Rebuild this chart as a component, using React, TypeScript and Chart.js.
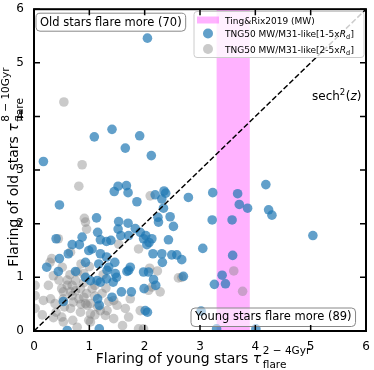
import React, { useEffect, useRef } from "react";
import { Chart, registerables } from "chart.js";

Chart.register(...registerables);

// ---- data ----
const blueX = [
  2.05, 0.17, 1.09, 1.41, 1.65, 1.91, 2.12,
  0.46, 1.52, 1.67, 1.45, 1.70, 1.86, 1.13, 1.53,
  2.19, 2.35, 2.38, 2.31, 2.34, 2.24, 2.46, 2.79,
  3.23, 3.68, 3.71, 3.86, 3.22, 3.58, 4.19, 4.24, 4.30,
  5.04, 3.05, 3.59, 3.40, 3.46, 3.26, 3.02, 3.30, 4.01,
  2.25, 2.52, 1.92, 2.02, 2.08, 2.43, 2.15, 2.31, 2.49, 2.58, 2.67, 2.32,
  1.98, 2.07, 2.16, 2.20, 2.70, 1.99, 2.01, 2.05,
  1.70, 1.52, 1.83, 1.98, 2.13, 0.40, 0.87, 1.15, 1.20, 1.31, 1.39, 1.57, 1.71,
  0.69, 0.82, 2.04, 0.99, 1.05, 1.20, 0.62, 0.46, 0.23, 0.44, 0.75, 0.93,
  1.31, 1.46, 1.35, 1.47, 1.74, 1.68, 0.93, 1.02, 1.14, 1.20, 1.31, 1.43, 1.49,
  1.58, 1.76, 1.41, 1.15, 1.18, 0.53, 0.60, 1.18, 1.17, 1.32, 1.71,
];
const blueY = [
  5.46, 3.16, 3.62, 3.76, 3.41, 3.64, 3.27,
  2.35, 2.70, 2.71, 2.60, 2.58, 2.41, 2.11, 2.04,
  2.54, 2.61, 2.57, 2.46, 2.29, 2.12, 2.13, 2.49,
  2.58, 2.56, 2.36, 2.29, 2.07, 2.07, 2.73, 2.26, 2.16,
  1.78, 1.54, 1.41, 1.04, 0.88, 0.87, 0.37, 0.04, 0.04,
  2.03, 1.95, 1.84, 1.78, 1.65, 1.70, 1.44, 1.44, 1.42, 1.42, 1.33, 1.28,
  1.10, 1.10, 0.96, 0.85, 1.02, 0.79, 0.38, 0.35,
  2.01, 1.90, 1.91, 1.72, 1.72, 1.72, 1.75, 1.84, 1.70, 1.67, 1.69, 1.78, 1.78,
  1.61, 1.61, 1.61, 1.50, 1.53, 1.44, 1.44, 1.35, 1.19, 1.11, 1.11, 1.28,
  1.38, 1.28, 1.19, 1.07, 1.19, 1.11, 1.00, 0.94, 0.94, 0.91, 0.97, 0.91, 1.00,
  0.73, 0.73, 0.63, 0.60, 0.48, 0.55, 0.01, 0.04, 1.25, 1.13, 1.13,
];
const greyX = [
  0.54, 0.87, 0.81, 0.91, 2.10, 3.61, 3.77, 2.09, 2.61, 2.07, 1.92, 1.98,
  0.93, 0.44, 0.32, 0.51, 0.35, 0.26, 0.02, 0.17, 0.02, 0.38, 0.53, 0.69,
  0.84, 0.69, 0.81, 0.93, 0.66, 0.84, 1.02, 1.02, 0.53, 0.78, 1.29, 1.44,
  1.65, 1.89, 1.20, 0.78, 0.90, 0.75, 1.05, 1.23, 1.50, 1.71, 0.66, 2.23,
  2.67, 2.28, 2.13, 1.53, 1.89, 0.29, 0.02, 0.50, 0.66, 0.53, 0.71, 0.90,
  0.96, 1.02, 0.50, 0.99, 1.32, 1.44, 1.74, 0.60, 0.85, 1.00, 1.25, 1.10,
  0.35, 0.15, 1.60, 1.35, 0.95,
  0.60, 0.75, 0.90, 1.10, 0.55, 0.70, 0.85, 1.15, 0.45, 0.95, 1.30, 0.30,
  0.65, 1.10, 0.40,
];
const greyY = [
  4.27, 3.10, 2.70, 2.10, 2.52, 1.12, 0.74, 1.17, 0.99, 0.76, 0.38, 0.04,
  2.03, 1.72, 1.35, 1.19, 1.03, 0.85, 0.85, 0.57, 0.66, 0.51, 0.73, 0.85,
  0.79, 0.66, 0.60, 0.51, 0.42, 0.35, 0.51, 0.17, 0.17, 0.07, 0.29, 0.23,
  0.42, 0.04, 0.38, 1.10, 1.07, 0.94, 0.79, 0.70, 0.48, 0.26, 1.47, 1.12,
  1.00, 0.73, 0.82, 1.62, 1.53, 1.28, 0.42, 0.79, 0.73, 0.60, 0.54, 0.63,
  0.48, 0.32, 0.26, 0.20, 0.38, 0.57, 0.60, 0.95, 1.25, 1.20, 1.05, 0.65,
  0.25, 0.30, 0.10, 0.55, 1.90,
  0.85, 0.75, 0.90, 0.85, 0.45, 0.20, 0.50, 0.45, 0.95, 0.70, 0.80, 0.60,
  1.05, 0.30, 0.35,
];
const diagX = [0, 6];
const diagY = [0, 6];
const bandRange = [3.3, 3.9];
const axisMin = 0;
const axisMax = 6;
const tickValues = [0, 1, 2, 3, 4, 5, 6];

const legendLabels = ["Ting&Rix2019 (MW)", "TNG50 MW/M31-like[1-5x", "TNG50 MW/M31-like[2-5x"];
const oldText = "Old stars flare more (70)";
const youngText = "Young stars flare more (89)";
const xTitleMain = "Flaring of young stars ";
const xTitleSup = "2 − 4Gyr";
const yTitleMain = "Flaring of old stars ";
const yTitleSup = "8 − 10Gyr";
const titleSub = "flare";

// ---- styles ----
const BLUE = "rgba(31,119,180,0.7)";
const GREY = "rgba(128,128,128,0.42)";
const PINK = "rgba(255,0,255,0.3)";
const FONT = "'DejaVu Sans'";

function roundBox(ctx: CanvasRenderingContext2D, x: number, y: number, w: number, h: number, r: number, fill: string, stroke: string) {
  ctx.beginPath();
  ctx.moveTo(x + r, y);
  ctx.lineTo(x + w - r, y);
  ctx.arcTo(x + w, y, x + w, y + r, r);
  ctx.lineTo(x + w, y + h - r);
  ctx.arcTo(x + w, y + h, x + w - r, y + h, r);
  ctx.lineTo(x + r, y + h);
  ctx.arcTo(x, y + h, x, y + h - r, r);
  ctx.lineTo(x, y + r);
  ctx.arcTo(x, y, x + r, y, r);
  ctx.closePath();
  ctx.fillStyle = fill;
  ctx.fill();
  ctx.strokeStyle = stroke;
  ctx.lineWidth = 1;
  ctx.stroke();
}

function mathLabelWidth(ctx: CanvasRenderingContext2D, main: string, sup: string) {
  ctx.font = `14px ${FONT}`;
  const wm = ctx.measureText(main).width;
  ctx.font = `italic 14px ${FONT}`;
  const wt = ctx.measureText("τ").width;
  ctx.font = `10.5px ${FONT}`;
  const ws = ctx.measureText(sup).width;
  const wsub = ctx.measureText(titleSub).width;
  return { wm, wt, total: wm + wt + 1.5 + Math.max(ws, wsub) };
}

function drawMathLabel(ctx: CanvasRenderingContext2D, main: string, sup: string, x0: number, base: number) {
  const { wm, wt } = mathLabelWidth(ctx, main, sup);
  ctx.fillStyle = "#000";
  ctx.textBaseline = "alphabetic";
  ctx.textAlign = "left";
  ctx.font = `14px ${FONT}`;
  ctx.fillText(main, x0, base);
  ctx.font = `italic 14px ${FONT}`;
  ctx.fillText("τ", x0 + wm, base);
  const xs = x0 + wm + wt + 1.5;
  ctx.font = `10.5px ${FONT}`;
  ctx.fillText(sup, xs, base - 9.5);
  ctx.fillText(titleSub, xs, base + 5);
}

const decor = {
  id: "decor",
  beforeDatasetsDraw(chart: any) {
    const { ctx, chartArea: a, scales } = chart;
    const x0 = scales.x.getPixelForValue(bandRange[0]);
    const x1 = scales.x.getPixelForValue(bandRange[1]);
    ctx.save();
    ctx.fillStyle = PINK;
    ctx.fillRect(x0, a.top, x1 - x0, a.bottom - a.top);
    ctx.restore();
  },
  afterDatasetsDraw(chart: any) {
    const { ctx, chartArea: a } = chart;
    ctx.save();
    // annotation boxes
    ctx.font = `11.5px ${FONT}`;
    const wOld = ctx.measureText(oldText).width;
    roundBox(ctx, a.left + 2, a.top + 4, wOld + 8, 18, 4, "rgba(255,255,255,0.6)", "#888");
    ctx.fillStyle = "#000";
    ctx.textBaseline = "middle";
    ctx.textAlign = "left";
    ctx.fillText(oldText, a.left + 6, a.top + 13.5);

    const wYoung = ctx.measureText(youngText).width;
    roundBox(ctx, a.left + 157, a.bottom - 23, wYoung + 8, 18.5, 4, "rgba(255,255,255,0.5)", "#888");
    ctx.fillStyle = "#000";
    ctx.fillText(youngText, a.left + 161, a.bottom - 13.5);

    // legend
    roundBox(ctx, 194, 11.5, 170, 46, 3, "rgba(255,255,255,0.8)", "#ccc");
    ctx.fillStyle = PINK;
    ctx.fillRect(197, 16.5, 22, 7);
    ctx.beginPath();
    ctx.arc(208, 33.5, 5, 0, Math.PI * 2);
    ctx.fillStyle = BLUE;
    ctx.fill();
    ctx.beginPath();
    ctx.arc(208, 49, 5, 0, Math.PI * 2);
    ctx.fillStyle = GREY;
    ctx.fill();
    ctx.fillStyle = "#000";
    ctx.textBaseline = "alphabetic";
    ctx.font = `9px ${FONT}`;
    ctx.fillText(legendLabels[0], 225, 23.5);
    const rows = [37, 52.5];
    [1, 2].forEach((k, i) => {
      const by = rows[i];
      let x = 225;
      ctx.font = `9px ${FONT}`;
      ctx.fillText(legendLabels[k], x, by);
      x += ctx.measureText(legendLabels[k]).width;
      ctx.font = `italic 9px ${FONT}`;
      ctx.fillText("R", x, by);
      x += ctx.measureText("R").width;
      ctx.font = `6.5px ${FONT}`;
      ctx.fillText("d", x, by + 2);
      x += ctx.measureText("d").width + 0.5;
      ctx.font = `9px ${FONT}`;
      ctx.fillText("]", x, by);
    });

    // sech^2(z)
    let sx = 312;
    const sb = 100;
    ctx.font = `12px ${FONT}`;
    ctx.fillText("sech", sx, sb);
    sx += ctx.measureText("sech").width;
    ctx.font = `8.5px ${FONT}`;
    ctx.fillText("2", sx, sb - 5);
    sx += ctx.measureText("2").width + 0.5;
    ctx.font = `12px ${FONT}`;
    ctx.fillText("(", sx, sb);
    sx += ctx.measureText("(").width;
    ctx.font = `italic 12px ${FONT}`;
    ctx.fillText("z", sx, sb);
    sx += ctx.measureText("z").width;
    ctx.font = `12px ${FONT}`;
    ctx.fillText(")", sx, sb);
    ctx.restore();
  },
  afterDraw(chart: any) {
    const { ctx, chartArea: a, scales } = chart;
    ctx.save();
    // frame
    ctx.strokeStyle = "#000";
    ctx.lineWidth = 2;
    ctx.strokeRect(a.left, a.top, a.right - a.left, a.bottom - a.top);
    // inward ticks on all sides
    ctx.lineWidth = 1.5;
    ctx.beginPath();
    tickValues.forEach((v) => {
      const px = scales.x.getPixelForValue(v);
      ctx.moveTo(px, a.bottom);
      ctx.lineTo(px, a.bottom - 6);
      ctx.moveTo(px, a.top);
      ctx.lineTo(px, a.top + 6);
      const py = scales.y.getPixelForValue(v);
      ctx.moveTo(a.left, py);
      ctx.lineTo(a.left + 6, py);
      ctx.moveTo(a.right, py);
      ctx.lineTo(a.right - 6, py);
    });
    ctx.stroke();

    // axis titles
    const wx = mathLabelWidth(ctx, xTitleMain, xTitleSup).total;
    const cx = (a.left + a.right) / 2 + 3;
    drawMathLabel(ctx, xTitleMain, xTitleSup, cx - wx / 2, 363);

    const wy = mathLabelWidth(ctx, yTitleMain, yTitleSup).total;
    const cy = (a.top + a.bottom) / 2 - 3;
    ctx.translate(18, cy);
    ctx.rotate(-Math.PI / 2);
    drawMathLabel(ctx, yTitleMain, yTitleSup, -wy / 2, 0);
    ctx.restore();
  },
};

function pts(xs: number[], ys: number[]) {
  return xs.map((x, i) => ({ x, y: ys[i] }));
}

export default function App() {
  const ref = useRef<HTMLCanvasElement | null>(null);

  useEffect(() => {
    document.body.style.margin = "0";
    const canvas = ref.current;
    if (!canvas) return;
    const tickFont = { family: "DejaVu Sans", size: 12 };
    const chart = new Chart(canvas, {
      type: "scatter",
      data: {
        datasets: [
          {
            label: "y=x",
            data: pts(diagX, diagY),
            showLine: true,
            borderColor: "#000",
            borderWidth: 1.5,
            borderDash: [5.5, 2.4],
            pointRadius: 0,
            clip: 0,
          } as any,
          {
            label: "blue",
            data: pts(blueX, blueY),
            backgroundColor: BLUE,
            borderWidth: 0,
            pointRadius: 4.8,
            clip: 0,
          } as any,
          {
            label: "grey",
            data: pts(greyX, greyY),
            backgroundColor: GREY,
            borderWidth: 0,
            pointRadius: 4.8,
            clip: 0,
          } as any,
        ],
      },
      options: {
        animation: false,
        responsive: false,
        devicePixelRatio: 1,
        events: [],
        layout: { padding: { top: 8, right: 8, left: 0, bottom: 0 } },
        plugins: { legend: { display: false }, tooltip: { enabled: false } },
        scales: {
          x: {
            type: "linear",
            min: axisMin,
            max: axisMax,
            grid: { display: false },
            border: { display: false },
            ticks: { stepSize: 1, color: "#000", font: tickFont, padding: 1, maxRotation: 0 },
            afterFit: (s: any) => {
              s.height = 39;
            },
          },
          y: {
            type: "linear",
            min: axisMin,
            max: axisMax,
            grid: { display: false },
            border: { display: false },
            ticks: { stepSize: 1, color: "#000", font: tickFont, padding: 2 },
            afterFit: (s: any) => {
              s.width = 34;
            },
          },
        },
      } as any,
      plugins: [decor],
    });
    return () => chart.destroy();
  }, []);

  return (
    <div style={{ position: "fixed", left: 0, top: 0, width: 374, height: 370, background: "#fff" }}>
      <canvas ref={ref} width={374} height={370} style={{ width: 374, height: 370, display: "block" }} />
    </div>
  );
}
